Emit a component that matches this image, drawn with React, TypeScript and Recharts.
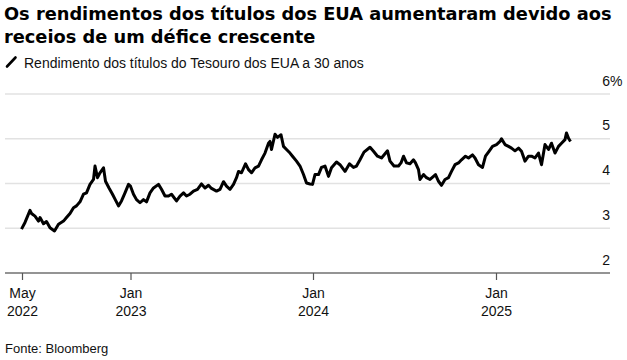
import { LineChart, Line, XAxis, YAxis, CartesianGrid } from 'recharts';

// 30-year US Treasury yield, %
const dates = [
  '2022-05-27', '2022-06-03', '2022-06-13', '2022-06-16', '2022-06-23', '2022-06-30', '2022-07-03', '2022-07-10',
  '2022-07-16', '2022-07-23', '2022-08-01', '2022-08-09', '2022-08-19', '2022-08-25', '2022-09-01', '2022-09-08',
  '2022-09-14', '2022-09-21', '2022-09-28', '2022-10-04', '2022-10-11', '2022-10-18', '2022-10-21', '2022-10-26',
  '2022-10-31', '2022-11-07', '2022-11-11', '2022-11-18', '2022-11-25', '2022-11-30', '2022-12-07', '2022-12-13',
  '2022-12-20', '2022-12-27', '2022-12-31',
  '2023-01-06', '2023-01-12', '2023-01-19', '2023-01-26', '2023-02-01', '2023-02-08', '2023-02-15', '2023-02-25',
  '2023-03-03', '2023-03-10', '2023-03-17', '2023-03-23', '2023-04-02', '2023-04-09', '2023-04-16', '2023-04-22',
  '2023-04-29', '2023-05-06', '2023-05-14', '2023-05-22', '2023-05-29', '2023-06-05', '2023-06-11', '2023-06-21',
  '2023-06-28', '2023-07-05', '2023-07-11', '2023-07-18', '2023-07-25', '2023-07-31', '2023-08-04', '2023-08-10',
  '2023-08-18', '2023-08-24', '2023-08-30', '2023-09-06', '2023-09-13', '2023-09-19', '2023-09-26', '2023-10-03',
  '2023-10-06', '2023-10-09', '2023-10-16', '2023-10-21', '2023-10-28', '2023-11-02', '2023-11-08', '2023-11-15',
  '2023-11-20', '2023-11-28', '2023-12-05', '2023-12-12', '2023-12-18', '2023-12-25', '2023-12-30',
  '2024-01-04', '2024-01-11', '2024-01-17', '2024-01-24', '2024-01-31', '2024-02-06', '2024-02-16', '2024-02-23',
  '2024-03-04', '2024-03-13', '2024-03-21', '2024-03-27', '2024-04-03', '2024-04-11', '2024-04-23', '2024-04-30',
  '2024-05-08', '2024-05-16', '2024-05-28', '2024-06-02', '2024-06-10', '2024-06-19', '2024-06-24', '2024-06-29',
  '2024-07-05', '2024-07-12', '2024-07-19', '2024-07-23', '2024-07-29', '2024-08-01', '2024-08-08', '2024-08-14',
  '2024-08-21', '2024-08-28', '2024-09-01', '2024-09-07', '2024-09-13', '2024-09-20', '2024-09-27', '2024-10-03',
  '2024-10-10', '2024-10-17', '2024-10-23', '2024-10-31', '2024-11-06', '2024-11-14', '2024-11-19', '2024-11-26',
  '2024-12-04', '2024-12-10', '2024-12-17', '2024-12-24',
  '2025-01-01', '2025-01-08', '2025-01-11', '2025-01-18', '2025-01-25', '2025-01-31', '2025-02-07', '2025-02-14',
  '2025-02-20', '2025-02-27', '2025-03-06', '2025-03-12', '2025-03-19', '2025-03-26', '2025-04-01', '2025-04-08',
  '2025-04-15', '2025-04-21', '2025-04-28', '2025-05-05', '2025-05-11', '2025-05-18', '2025-05-21', '2025-05-25',
  '2025-05-29',
];

const yields = [
  2.98, 3.13, 3.40, 3.33, 3.27, 3.16, 3.24, 3.10,
  3.15, 3.01, 2.94, 3.09, 3.16, 3.24, 3.33, 3.46,
  3.50, 3.59, 3.76, 3.79, 3.98, 4.09, 4.39, 4.13,
  4.24, 4.35, 4.05, 3.90, 3.76, 3.65, 3.50, 3.61,
  3.79, 3.98, 3.94,
  3.76, 3.64, 3.57, 3.64, 3.59, 3.79, 3.90, 3.98,
  3.87, 3.72, 3.72, 3.76, 3.61, 3.72, 3.79, 3.72,
  3.76, 3.83, 3.87, 3.99, 3.90, 3.96, 3.89, 3.83,
  3.87, 4.04, 3.94, 3.87, 3.98, 4.13, 4.27, 4.24,
  4.44, 4.31, 4.24, 4.35, 4.39, 4.53, 4.68, 4.90,
  4.94, 4.76, 5.10, 5.03, 5.09, 4.83, 4.76, 4.68,
  4.61, 4.50, 4.39, 4.20, 4.01, 3.99, 3.98,
  4.20, 4.20, 4.36, 4.39, 4.16, 4.35, 4.48, 4.42,
  4.27, 4.44, 4.36, 4.39, 4.53, 4.70, 4.81, 4.72,
  4.61, 4.57, 4.73, 4.50, 4.39, 4.39, 4.46, 4.61,
  4.46, 4.44, 4.53, 4.46, 4.31, 4.09, 4.20, 4.13,
  4.09, 4.16, 4.20, 4.05, 3.96, 4.09, 4.13, 4.27,
  4.42, 4.46, 4.53, 4.61, 4.57, 4.64, 4.57, 4.42,
  4.36, 4.61, 4.72, 4.83,
  4.87, 4.94, 5.00, 4.87, 4.83, 4.79, 4.73, 4.79,
  4.72, 4.50, 4.61, 4.61, 4.57, 4.68, 4.42, 4.87,
  4.76, 4.90, 4.68, 4.83, 4.90, 4.98, 5.13, 5.01,
  4.94,
];

const xDomain = ['2022-04-24', '2025-08-16'];
const xTickDates = ['2022-05-29', '2023-01-01', '2024-01-01', '2025-01-01'];
const xTickLabels = [['May', '2022'], ['Jan', '2023'], ['Jan', '2024'], ['Jan', '2025']];
const yTicks = [2, 3, 4, 5, 6];

const TEXT = '#111';
const FONT = '"Liberation Sans", Arial, sans-serif';

const chartData = dates.map((d, i) => ({ t: Date.parse(d), v: yields[i] }));
const tickTimes = xTickDates.map((d) => Date.parse(d));

const XTick = ({ x, payload }: any) => {
  const idx = tickTimes.indexOf(payload.value);
  const label = xTickLabels[idx] || ['', ''];
  return (
    <g>
      <text x={x} y={298} textAnchor="middle" fontSize={14} fontFamily={FONT} fill={TEXT}>{label[0]}</text>
      <text x={x} y={316} textAnchor="middle" fontSize={14} fontFamily={FONT} fill={TEXT}>{label[1]}</text>
    </g>
  );
};

// labels sit on top of the gridlines, right-aligned at the plot edge
const YTick = ({ y, payload }: any) => (
  <g>
    <text x={610} y={y - 8.5} textAnchor="end" fontSize={14} fontFamily={FONT} fill={TEXT}>{payload.value}</text>
    {payload.value === 6 && (
      <text x={610} y={y - 8.5} textAnchor="start" fontSize={14} fontFamily={FONT} fill={TEXT}>%</text>
    )}
  </g>
);

export default function App() {
  return (
    <div style={{ position: 'absolute', left: 0, top: 0, width: 627, height: 360, background: '#fff' }}>
      <LineChart width={627} height={360} data={chartData} margin={{ top: 94, right: 2, bottom: 57, left: 5 }}>
        <CartesianGrid horizontal vertical={false} stroke="#e2e2e2" strokeWidth={1.5} />
        <XAxis
          dataKey="t"
          type="number"
          scale="time"
          domain={xDomain.map((d) => Date.parse(d))}
          ticks={tickTimes}
          tick={<XTick />}
          height={30}
          tickSize={7}
          axisLine={{ stroke: '#777', strokeWidth: 1.5 }}
          tickLine={{ stroke: '#555', strokeWidth: 1.2 }}
          interval={0}
        />
        <YAxis
          orientation="right"
          width={15}
          domain={[2, 6]}
          ticks={yTicks}
          axisLine={false}
          tickLine={false}
          tick={<YTick />}
          interval={0}
        />
        <Line
          type="linear"
          dataKey="v"
          stroke="#000"
          strokeWidth={3}
          strokeLinejoin="round"
          dot={false}
          isAnimationActive={false}
        />
      </LineChart>
      <svg width={627} height={360} style={{ position: 'absolute', left: 0, top: 0, pointerEvents: 'none' }}>
        <text x={4} y={20} fontSize={17.8} fontWeight="bold" fontFamily='"DejaVu Sans", sans-serif' fill="#000">
          Os rendimentos dos títulos dos EUA aumentaram devido aos
        </text>
        <text x={4} y={43} fontSize={17.8} fontWeight="bold" fontFamily='"DejaVu Sans", sans-serif' fill="#000">
          receios de um défice crescente
        </text>
        <line x1={7} y1={66.5} x2={15.5} y2={57.5} stroke="#000" strokeWidth={2.6} strokeLinecap="round" />
        <text x={24} y={67.5} fontSize={14} fontFamily={FONT} fill={TEXT}>
          Rendimento dos títulos do Tesouro dos EUA a 30 anos
        </text>
        <text x={5} y={353} fontSize={13} fontFamily={FONT} fill={TEXT}>
          Fonte: Bloomberg
        </text>
      </svg>
    </div>
  );
}
